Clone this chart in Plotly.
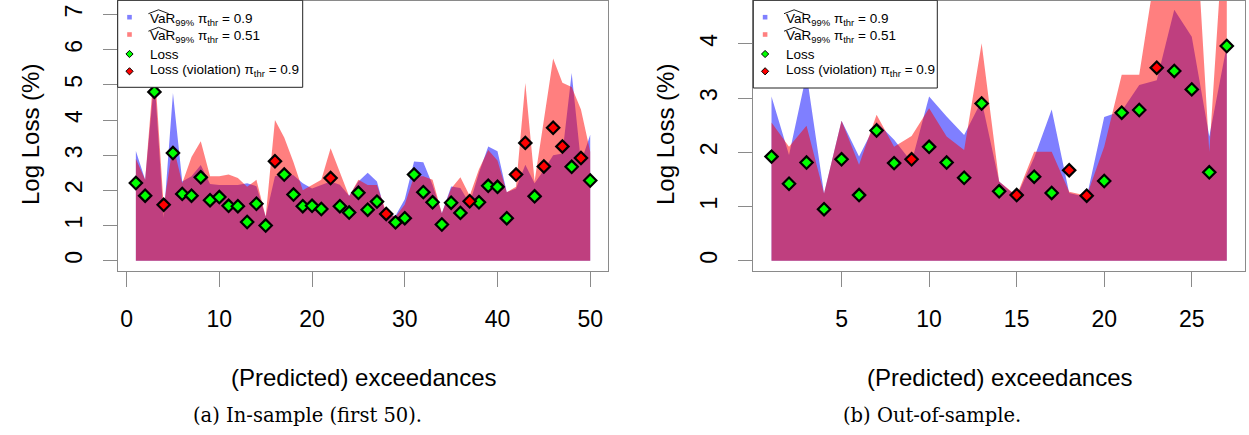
import plotly.graph_objects as go

# ---------------- data ----------------
# In-sample (first 50 predicted exceedances)
in_idx = list(range(1, 51))
in_var_090 = [3.12, 2.30, 5.20, 1.22, 4.77, 2.25, 2.40, 2.72, 2.18, 2.15,
              2.15, 2.15, 2.20, 2.12, 1.25, 2.40, 2.47, 2.43, 2.20, 2.05,
              2.15, 2.25, 2.16, 1.85, 2.25, 2.50, 2.25, 1.28, 1.28, 1.75,
              2.82, 2.80, 2.15, 1.35, 2.11, 2.07, 1.62, 2.50, 3.25, 3.11,
              1.95, 2.05, 2.73, 2.20, 2.58, 3.00, 3.05, 5.34, 2.80, 3.58]
in_var_051 = [2.90, 2.30, 5.60, 1.55, 3.30, 2.20, 2.95, 3.40, 2.40, 2.40,
              2.45, 2.35, 2.10, 2.30, 1.25, 4.00, 3.50, 2.80, 2.00, 2.15,
              2.30, 3.20, 2.52, 1.83, 2.30, 2.15, 2.15, 1.38, 1.25, 1.60,
              2.40, 2.40, 2.30, 1.35, 2.05, 2.37, 1.85, 2.60, 3.15, 2.85,
              1.95, 2.10, 5.05, 2.26, 4.00, 5.75, 5.06, 4.94, 4.30, 3.10]
in_loss = [2.21, 1.85, 4.80, 1.59, 3.06, 1.90, 1.85, 2.37, 1.72, 1.81,
           1.56, 1.55, 1.10, 1.62, 1.00, 2.83, 2.45, 1.88, 1.55, 1.56,
           1.47, 2.35, 1.55, 1.37, 1.93, 1.45, 1.68, 1.33, 1.09, 1.21,
           2.45, 1.95, 1.66, 1.03, 1.65, 1.36, 1.69, 1.66, 2.13, 2.10,
           1.21, 2.45, 3.35, 1.83, 2.68, 3.78, 3.25, 2.67, 2.92, 2.28]

# Out-of-sample
out_idx = list(range(1, 28))
out_var_090 = [3.03, 1.95, 3.45, 1.24, 2.58, 1.92, 2.56, 2.23, 1.82, 3.03,
               2.66, 2.32, 2.95, 1.46, 1.18, 1.90, 2.79, 1.25, 1.17, 2.65,
               2.76, 3.24, 3.33, 4.63, 4.13, 2.29, 3.97]
out_var_051 = [2.55, 2.10, 2.49, 1.24, 2.58, 1.77, 2.69, 2.10, 2.30, 2.81,
               2.29, 2.04, 4.01, 1.46, 1.20, 2.01, 2.01, 1.27, 1.20, 2.10,
               3.43, 3.43, 5.50, 6.50, 7.50, 2.01, 7.00]
out_loss = [1.92, 1.42, 1.81, 0.95, 1.87, 1.21, 2.40, 1.80, 1.87, 2.10,
            1.81, 1.53, 2.90, 1.28, 1.21, 1.55, 1.25, 1.67, 1.20, 1.47,
            2.73, 2.78, 3.56, 3.50, 3.16, 1.63, 3.96]

in_xticks = [0, 10, 20, 30, 40, 50]
in_yticks = [0, 1, 2, 3, 4, 5, 6, 7]
out_xticks = [5, 10, 15, 20, 25]
out_yticks = [0, 1, 2, 3, 4]

# ---------------- styling ----------------
W, H = 1249, 435
BLUE_FILL = "rgba(0,0,255,0.5)"
RED_FILL = "rgba(255,0,0,0.5)"
BLUE_KEY = "#8080ff"
RED_KEY = "#ff8080"
GREEN = "#00ff00"
RED = "#ff0000"
AXIS_GREY = "#8a8a8a"
SANS = "Liberation Sans, Arial, Helvetica, sans-serif"
SERIF = "DejaVu Serif, Liberation Serif, serif"


def px(x):
    return x / W


def py(y):
    return 1 - y / H


fig = go.Figure()


def add_panel(xs, var90, var51, loss, xa, ya):
    fig.add_trace(go.Scatter(x=xs, y=var90, mode="lines", fill="tozeroy",
                             fillcolor=BLUE_FILL, line=dict(width=0),
                             xaxis=xa, yaxis=ya, showlegend=False,
                             hoverinfo="skip"))
    fig.add_trace(go.Scatter(x=xs, y=var51, mode="lines", fill="tozeroy",
                             fillcolor=RED_FILL, line=dict(width=0),
                             xaxis=xa, yaxis=ya, showlegend=False,
                             hoverinfo="skip"))
    ok_x = [x for x, l, v in zip(xs, loss, var90) if l <= v]
    ok_y = [l for l, v in zip(loss, var90) if l <= v]
    bad_x = [x for x, l, v in zip(xs, loss, var90) if l > v]
    bad_y = [l for l, v in zip(loss, var90) if l > v]
    for mx, my, col in ((ok_x, ok_y, GREEN), (bad_x, bad_y, RED)):
        fig.add_trace(go.Scatter(x=mx, y=my, mode="markers",
                                 marker=dict(symbol="diamond", size=9.5,
                                             color=col,
                                             line=dict(color="black", width=2.2)),
                                 xaxis=xa, yaxis=ya, showlegend=False,
                                 cliponaxis=False))


add_panel(in_idx, in_var_090, in_var_051, in_loss, "x", "y")
add_panel(out_idx, out_var_090, out_var_051, out_loss, "x2", "y2")

ydom = [py(270.7), py(1)]


def xaxis_style(dom, rng, ticks):
    return dict(domain=dom, range=rng, tickvals=ticks, showgrid=False,
                zeroline=False, showline=True, mirror=True,
                linecolor=AXIS_GREY, linewidth=1, ticks="outside",
                ticklen=15, tickcolor=AXIS_GREY, tickwidth=1,
                tickfont=dict(family=SANS, size=23, color="black"),
                ticklabelstandoff=13)


def yaxis_style(rng, ticks, anchor):
    return dict(domain=ydom, range=rng, tickvals=ticks, showgrid=False,
                zeroline=False, showline=True, mirror=True,
                linecolor=AXIS_GREY, linewidth=1, ticks="outside",
                ticklen=14, tickcolor=AXIS_GREY, tickwidth=1,
                tickangle=-90, anchor=anchor,
                tickfont=dict(family=SANS, size=23, color="black"),
                ticklabelstandoff=12)


xa1 = xaxis_style([px(117.7), px(608.4)], [-0.96, 51.96], in_xticks)
xa1["anchor"] = "y"
xa2 = xaxis_style([px(753.3), px(1245.0)], [-0.04, 28.04], out_xticks)
xa2["anchor"] = "y2"

fig.update_layout(
    width=W, height=H,
    margin=dict(l=0, r=0, t=0, b=0),
    paper_bgcolor="white", plot_bgcolor="white",
    showlegend=False,
    xaxis=xa1,
    yaxis=yaxis_style([-0.284, 7.384], in_yticks, "x"),
    xaxis2=xa2,
    yaxis2=yaxis_style([-0.184, 4.79], out_yticks, "x2"),
)

annotations = []
shapes = []

# axis titles and captions
for cx, ycx, cap_x, cap in ((363, 31, 307, "(a) In-sample (first 50)."),
                            (999, 666, 932, "(b) Out-of-sample.")):
    annotations.append(dict(x=px(cx), y=py(377), xref="paper", yref="paper",
                            text="(Predicted) exceedances", showarrow=False,
                            xanchor="center", yanchor="middle",
                            font=dict(family=SANS, size=24, color="black")))
    annotations.append(dict(x=px(ycx), y=py(135), xref="paper", yref="paper",
                            text="Log Loss (%)", showarrow=False, textangle=-90,
                            xanchor="center", yanchor="middle",
                            font=dict(family=SANS, size=24, color="black")))
    annotations.append(dict(x=px(cap_x), y=py(415), xref="paper", yref="paper",
                            text=cap, showarrow=False,
                            xanchor="center", yanchor="middle",
                            font=dict(family=SERIF, size=19.5, color="black")))

# legend boxes
VAR_LABEL = "VaR<sub>99%</sub> π<sub>thr</sub> = {}"
legend_rows = [
    ("square", BLUE_KEY, VAR_LABEL.format("0.9"), 17.2, 19.5, True),
    ("square", RED_KEY, VAR_LABEL.format("0.51"), 34.5, 37.0, True),
    ("diamond", GREEN, "Loss", 54.0, 54.2, False),
    ("diamond", RED, "Loss (violation) π<sub>thr</sub> = 0.9", 71.3, 71.0, False),
]

for left, right, bottom in ((117.7, 302.7, 87.3), (753.3, 937.3, 88.0)):
    shapes.append(dict(type="rect", xref="paper", yref="paper",
                       x0=px(left), x1=px(right), y0=py(bottom), y1=py(0.3),
                       fillcolor="white", line=dict(color="#222222", width=1),
                       layer="above"))
    sx = left + 11.8
    tx = left + 30.4
    for kind, col, label, sy, ty, hat in legend_rows:
        if kind == "square":
            shapes.append(dict(type="rect", xref="paper", yref="paper",
                               x0=px(sx - 2.3), x1=px(sx + 2.3),
                               y0=py(sy + 2.3), y1=py(sy - 2.3),
                               fillcolor=col, line=dict(width=0), layer="above"))
        else:
            d = 3.6
            path = (f"M {px(sx)},{py(sy - d)} L {px(sx + d)},{py(sy)} "
                    f"L {px(sx)},{py(sy + d)} L {px(sx - d)},{py(sy)} Z")
            shapes.append(dict(type="path", xref="paper", yref="paper",
                               path=path, fillcolor=col,
                               line=dict(color="black", width=1), layer="above"))
        annotations.append(dict(x=px(tx), y=py(ty), xref="paper", yref="paper",
                                text=label, showarrow=False,
                                xanchor="left", yanchor="middle",
                                font=dict(family=SANS, size=13.5, color="black")))
        if hat:
            h0 = ty - 5.8
            path = (f"M {px(tx + 0.3)},{py(h0)} L {px(tx + 10.4)},{py(h0 - 3.9)} "
                    f"L {px(tx + 20.6)},{py(h0)}")
            shapes.append(dict(type="path", xref="paper", yref="paper",
                               path=path, line=dict(color="black", width=0.9),
                               layer="above"))

fig.update_layout(annotations=annotations, shapes=shapes)

fig.write_html("out.html")
